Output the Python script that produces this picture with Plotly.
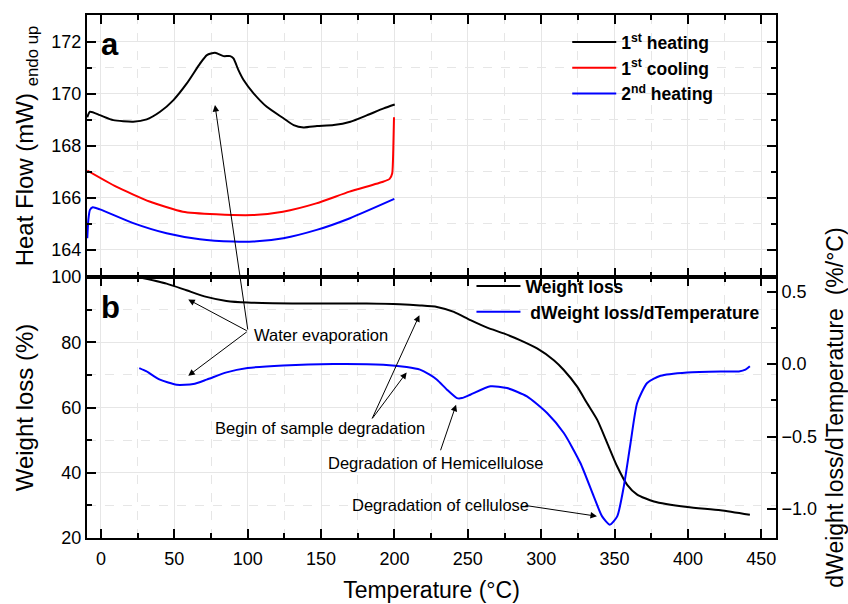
import plotly.graph_objects as go

# ---------------- data ----------------
# (a) DSC heat flow
heat1_T = [-9.3, -7.5, -0.7, 8.4, 22, 31.2, 40.3, 49.4, 58.5, 67.6, 72.2, 77.8, 83.5, 88.1,
           90.3, 93.7, 97.2, 104, 113, 124.4, 131.3, 138.1, 147.2, 158.6, 170, 181.4, 192.7, 200.2]
heat1_HF = [169.1, 169.31, 169.18, 168.99, 168.93, 169.02, 169.31, 169.76, 170.40, 171.17, 171.49,
            171.58, 171.45, 171.45, 171.36, 170.91, 170.53, 170.02, 169.50, 169.06, 168.80, 168.71,
            168.76, 168.80, 168.93, 169.18, 169.44, 169.59]

cool1_T = [-9.3, 10.4, 33.1, 55.8, 78.5, 103.5, 124, 146.7, 169.4, 192.2, 196.7, 198.5, 199.2, 199.7]
cool1_HF = [167.05, 166.43, 165.86, 165.47, 165.37, 165.34, 165.47, 165.79, 166.24, 166.62,
            166.73, 166.95, 167.84, 169.10]

heat2_T = [-9.3, -8.6, -7.5, -5.6, -0.7, 22, 44.7, 67.4, 90.1, 103.8, 124.3, 147, 169.7, 199.9]
heat2_HF = [164.45, 165.15, 165.54, 165.64, 165.56, 165.03, 164.64, 164.41, 164.32, 164.32,
            164.45, 164.77, 165.22, 165.96]

# (b) TGA weight loss and its derivative
wl_T = [25.4, 44.7, 58.3, 71.9, 85.5, 99.9, 135.6, 181, 203.6, 217.4, 229, 240.5, 251.8,
        263.2, 274.5, 285.9, 297.2, 308.6, 315.4, 324.5, 331.3, 338.2, 345, 351.8, 358.6,
        365.4, 376.8, 399.5, 422.2, 442.2]
wl_pct = [100, 97.97, 95.93, 93.9, 92.66, 92.16, 91.87, 91.87, 91.66, 91.3, 90.83, 89.3, 86.76,
          84.5, 82.7, 80.6, 78.1, 74.5, 71.5, 66.4, 61.3, 56.2, 49.1, 41.9, 36.3, 33.3, 31.2,
          29.5, 28.5, 27.1]

dtg_T = [26.1, 31.1, 40.2, 51.6, 62.9, 72, 85.6, 99.9, 124.2, 158.3, 192.4, 208.3, 217.4, 224,
         229, 235.8, 242.6, 246, 251.7, 265.4, 276.7, 290.3, 304, 315.4, 326.7, 335.8, 341.5,
         346.8, 351.8, 356.3, 360.9, 365.4, 372.2, 381.3, 399.5, 422.2, 434.7, 439.2, 442.2]
dtg_val = [-0.028, -0.051, -0.108, -0.143, -0.138, -0.108, -0.058, -0.028, -0.01, 0.0, -0.005,
           -0.021, -0.039, -0.074, -0.108, -0.177, -0.235, -0.235, -0.212, -0.154, -0.166,
           -0.223, -0.338, -0.476, -0.683, -0.913, -1.051, -1.108, -1.051, -0.844, -0.545,
           -0.269, -0.131, -0.081, -0.058, -0.051, -0.051, -0.039, -0.016]

x_ticks = [0, 50, 100, 150, 200, 250, 300, 350, 400, 450]

FONT = "Liberation Sans, Arial, sans-serif"
GRID = "#e6e6e6"
SPLIT = 261 / 523

fig = go.Figure()

fig.add_trace(go.Scatter(x=heat1_T, y=heat1_HF, mode="lines", name="<b>1<sup>st</sup> heating</b>",
                         line=dict(color="black", width=2, shape="spline", smoothing=0.6),
                         xaxis="x", yaxis="y", legend="legend"))
fig.add_trace(go.Scatter(x=cool1_T, y=cool1_HF, mode="lines", name="<b>1<sup>st</sup> cooling</b>",
                         line=dict(color="red", width=2, shape="spline", smoothing=0.5),
                         xaxis="x", yaxis="y", legend="legend"))
fig.add_trace(go.Scatter(x=heat2_T, y=heat2_HF, mode="lines", name="<b>2<sup>nd</sup> heating</b>",
                         line=dict(color="blue", width=2, shape="spline", smoothing=0.6),
                         xaxis="x", yaxis="y", legend="legend"))

fig.add_trace(go.Scatter(x=wl_T, y=wl_pct, mode="lines", name="<b>Weight loss</b>",
                         line=dict(color="black", width=2, shape="spline", smoothing=0.6),
                         xaxis="x2", yaxis="y2", legend="legend2"))
fig.add_trace(go.Scatter(x=dtg_T, y=dtg_val, mode="lines", name="<b> dWeight loss/dTemperature</b>",
                         line=dict(color="blue", width=2, shape="spline", smoothing=0.6),
                         xaxis="x2", yaxis="y3", legend="legend2"))

axis_common = dict(showline=True, linecolor="black", linewidth=2, ticks="inside",
                   tickcolor="black", tickwidth=2, ticklen=9, zeroline=False, automargin=False,
                   tickfont=dict(size=18, color="black", family=FONT),
                   showgrid=True, gridcolor=GRID, gridwidth=1)
minor_common = dict(ticks="inside", ticklen=5, tickwidth=2, tickcolor="black")

XR = [-9.5, 460]
fig.update_layout(
    width=848, height=604,
    margin=dict(l=87, r=72, t=15, b=66),
    paper_bgcolor="white", plot_bgcolor="white",
    font=dict(family=FONT, color="black"),
    xaxis=dict(**axis_common, range=XR, anchor="y", matches="x2", tickvals=x_ticks,
               showticklabels=False, mirror="ticks",
               minor=dict(dtick=25, tick0=0, **minor_common,
                          showgrid=True, gridcolor=GRID, griddash="dash")),
    xaxis2=dict(**axis_common, range=XR, anchor="y2", tickvals=x_ticks, mirror="ticks",
                ticklabelstandoff=3,
                title=dict(text="Temperature (°C)", font=dict(size=23, family=FONT), standoff=14),
                minor=dict(dtick=25, tick0=0, **minor_common,
                           showgrid=True, gridcolor=GRID, griddash="dash")),
    yaxis=dict(**axis_common, domain=[SPLIT, 1], range=[162.96, 173.03], dtick=2, tick0=0,
               mirror="ticks", anchor="x",
               title=dict(text="Heat Flow (mW) <sub>endo up</sub>",
                          font=dict(size=24, family=FONT), standoff=11),
               minor=dict(dtick=1, **minor_common,
                          showgrid=True, gridcolor=GRID, griddash="dash")),
    yaxis2=dict(**axis_common, domain=[0, SPLIT], range=[20, 100], dtick=20, tick0=0,
                anchor="x2",
                title=dict(text="Weight loss (%)", font=dict(size=24, family=FONT), standoff=11),
                minor=dict(dtick=10, **minor_common,
                           showgrid=True, gridcolor=GRID, griddash="dash")),
    yaxis3=dict(**{**axis_common, "showgrid": False}, overlaying="y2", side="right",
                anchor="x2", range=[-1.2, 0.6], dtick=0.5, tick0=0, tickformat=".1f",
                title=dict(text="dWeight loss/dTemperature  (%/°C)",
                           font=dict(size=23, family=FONT), standoff=14),
                minor=dict(dtick=0.25, **minor_common)),
    legend=dict(x=0.697, y=0.9825, xanchor="left", yanchor="top", bgcolor="rgba(0,0,0,0)",
                font=dict(size=17.5, family=FONT, color="black"), itemwidth=44, tracegroupgap=0),
    legend2=dict(x=0.558, y=0.516, xanchor="left", yanchor="top", bgcolor="rgba(0,0,0,0)",
                 font=dict(size=17.5, family=FONT, color="black"), itemwidth=44),
    showlegend=True,
)

# panel labels
fig.add_annotation(text="<b>a</b>", x=-1.5, y=171.9, xref="x", yref="y", showarrow=False,
                   xanchor="left", yanchor="middle", font=dict(size=31, family=FONT))
fig.add_annotation(text="<b>b</b>", x=-1.5, y=90.5, xref="x2", yref="y2", showarrow=False,
                   xanchor="left", yanchor="middle", font=dict(size=31, family=FONT))

# text labels
txt = dict(showarrow=False, xanchor="left", yanchor="middle", font=dict(size=16.5, family=FONT))
fig.add_annotation(text="Water evaporation", x=102.7, y=82.2, xref="x2", yref="y2", **txt)
fig.add_annotation(text="Begin of sample degradation", x=76.5, y=53.7, xref="x2", yref="y2", **txt)
fig.add_annotation(text="Degradation of Hemicellulose", x=153.4, y=43.0, xref="x2", yref="y2", **txt)
fig.add_annotation(text="Degradation of cellulose", x=169.7, y=30.0, xref="x2", yref="y2", **txt)

# arrows (head at data point, tail offset in pixels)
arr = dict(text="", showarrow=True, arrowhead=2, arrowsize=1.3, arrowwidth=1,
           arrowcolor="black", axref="pixel", ayref="pixel", standoff=0, startstandoff=0)
fig.add_annotation(x=77.7, y=169.57, xref="x", yref="y", ax=33, ay=226, **arr)
fig.add_annotation(x=59.5, y=93.1, xref="x2", yref="y2", ax=60, ay=32, **arr)
fig.add_annotation(x=59.5, y=-0.081, xref="x2", yref="y3", ax=60, ay=-45, **arr)
fig.add_annotation(x=217, y=88.3, xref="x2", yref="y2", ax=-48, ay=105, **arr)
fig.add_annotation(x=208.3, y=-0.058, xref="x2", yref="y3", ax=-35, ay=47, **arr)
fig.add_annotation(x=242, y=-0.281, xref="x2", yref="y3", ax=-16, ay=47, **arr)
fig.add_annotation(x=338, y=-1.05, xref="x2", yref="y3", ax=-73, ay=-11, **arr)

fig.write_html("out.html")
